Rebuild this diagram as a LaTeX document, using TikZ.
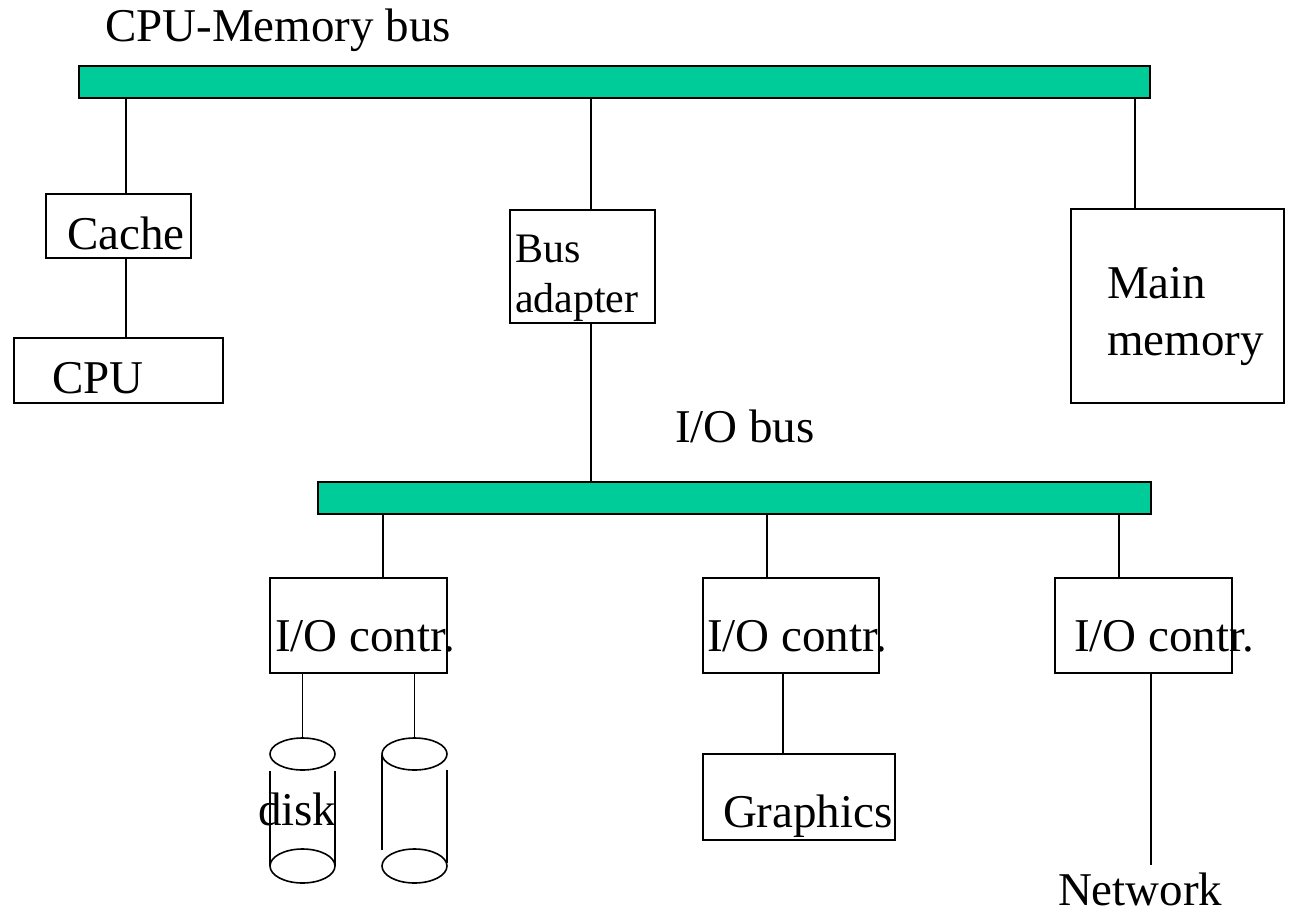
\documentclass[tikz,border=0pt]{standalone}
\usepackage{fontspec}
\setmainfont{Liberation Serif}
\usetikzlibrary{shapes.geometric}
\definecolor{busgreen}{RGB}{0,204,153}
\tikzset{
  box/.style={draw=black, line width=1.6pt, inner sep=0pt, outer sep=0pt, fill=white},
  busbar/.style={draw=black, line width=2pt, fill=busgreen, inner sep=0pt, outer sep=0pt},
  wire/.style={draw=black, line width=1.6pt},
  lbl/.style={anchor=base west, inner sep=0pt, outer sep=0pt, font=\fontsize{47}{57}\selectfont},
  smalllbl/.style={anchor=base west, inner sep=0pt, outer sep=0pt, font=\fontsize{42}{50}\selectfont},
  disktop/.style={ellipse, draw=black, line width=1.6pt, minimum width=65pt, minimum height=32pt, inner sep=0pt, outer sep=0pt},
  diskbot/.style={ellipse, draw=black, line width=1.6pt, minimum width=65pt, minimum height=34pt, inner sep=0pt, outer sep=0pt},
}
\begin{document}
\begin{tikzpicture}[x=1pt, y=-1pt]
\useasboundingbox (0,0) rectangle (1300,912);

% buses
\node[busbar, minimum width=1071pt, minimum height=32pt] (cpubus) at (614.5,82) {};
\node[busbar, minimum width=833pt, minimum height=32pt] (iobus) at (734.5,498) {};

% upper units
\node[box, minimum width=145pt, minimum height=64pt] (cache) at (118.5,226) {};
\node[box, minimum width=209pt, minimum height=65pt] (cpu) at (118.5,370.5) {};
\node[box, minimum width=145pt, minimum height=113pt] (adapter) at (582.5,266.5) {};
\node[box, minimum width=213pt, minimum height=194pt] (mainmem) at (1177.5,306) {};

% I/O controllers and graphics
\node[box, minimum width=177pt, minimum height=95pt] (ioa) at (358.5,625.5) {};
\node[box, minimum width=176pt, minimum height=95pt] (iob) at (791,625.5) {};
\node[box, minimum width=177pt, minimum height=95pt] (ioc) at (1143.5,625.5) {};
\node[box, minimum width=192pt, minimum height=86pt] (graphics) at (799,797) {};

% disks
\node[disktop] (diskatop) at (302.5,754) {};
\node[diskbot] (diskabot) at (302.5,866) {};
\node[disktop] (diskbtop) at (414.5,754) {};
\node[diskbot] (diskbbot) at (414.5,866) {};
\draw[wire] (270,771) -- (270,866);
\draw[wire] (335,771) -- (335,866);
\draw[wire] (382,755) -- (382,850);
\draw[wire] (447,770) -- (447,863);

\coordinate (netend) at (1151,865);

% connectors
\draw[wire] (126,0 |- cpubus.south) -- (126,0 |- cache.north);
\draw[wire] (126,0 |- cache.south) -- (126,0 |- cpu.north);
\draw[wire] (591,0 |- cpubus.south) -- (591,0 |- adapter.north);
\draw[wire] (591,0 |- adapter.south) -- (591,0 |- iobus.north);
\draw[wire] (1135,0 |- cpubus.south) -- (1135,0 |- mainmem.north);
\draw[wire] (383,0 |- iobus.south) -- (383,0 |- ioa.north);
\draw[wire] (767,0 |- iobus.south) -- (767,0 |- iob.north);
\draw[wire] (1119,0 |- iobus.south) -- (1119,0 |- ioc.north);
\draw[wire] (ioa.south -| diskatop.north) -- (diskatop.north);
\draw[wire] (ioa.south -| diskbtop.north) -- (diskbtop.north);
\draw[wire] (783,0 |- iob.south) -- (783,0 |- graphics.north);
\draw[wire] (ioc.south -| netend) -- (netend);

% labels
\node[lbl] (cpubuslbl) at (105,42) {CPU-Memory bus};
\node[lbl] (cachelbl) at (67,249) {Cache};
\node[lbl] (cpulbl) at (52,393) {CPU};
\node[smalllbl] (adapterlbla) at (515,262) {Bus};
\node[smalllbl] (adapterlblb) at (515,312) {adapter};
\node[lbl] (mainlbla) at (1107,298) {Main};
\node[lbl] (mainlblb) at (1107,355) {memory};
\node[lbl] (iobuslbl) at (675,442) {I/O bus};
\node[lbl] (ioalbl) at (275,651) {I/O contr.};
\node[lbl] (ioblbl) at (707,651) {I/O contr.};
\node[lbl] (ioclbl) at (1074,651) {I/O contr.};
\node[lbl] (graphicslbl) at (723,827) {Graphics};
\node[lbl] (disklbl) at (258,825) {disk};
\node[lbl] (netlbl) at (1058,905) {Network};
\end{tikzpicture}
\end{document}
